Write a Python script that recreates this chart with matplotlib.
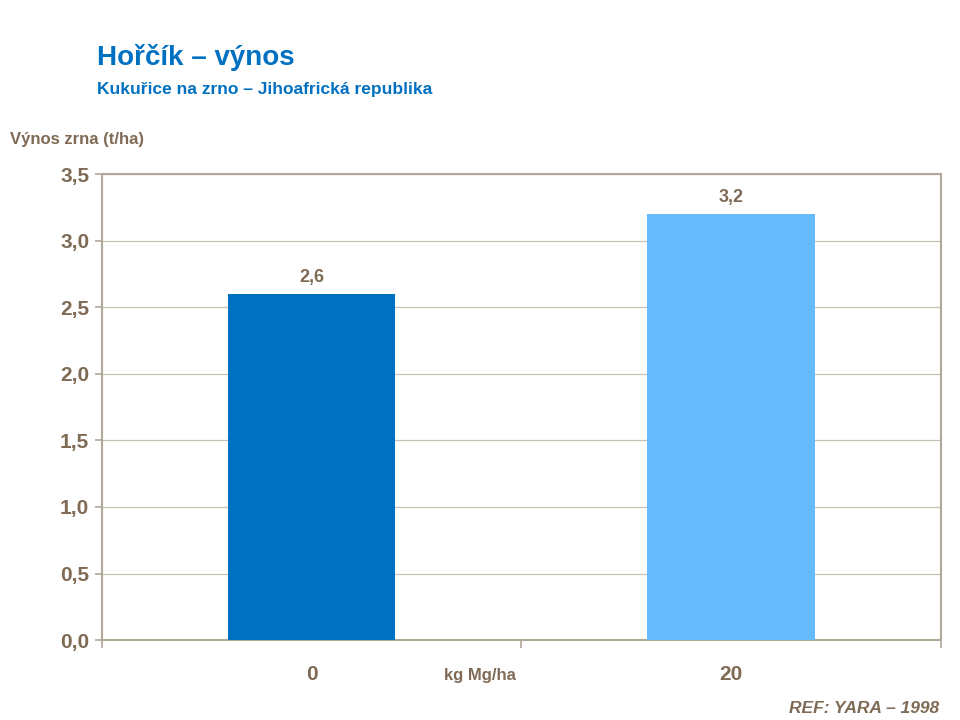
import matplotlib
matplotlib.use("Agg")
import matplotlib.pyplot as plt
from matplotlib.ticker import FixedLocator

categories = ["0", "20"]
yields = [2.6, 3.2]
value_labels = ["2,6", "3,2"]
yticks = [0.0, 0.5, 1.0, 1.5, 2.0, 2.5, 3.0, 3.5]

TXT = "#7F6A55"
EDGE = "#B0A898"
BLUE = "#0070C0"

plt.rcParams.update({"font.family": "Liberation Sans", "font.weight": "bold"})
fig = plt.figure(figsize=(9.6, 7.2), dpi=100)
ax = fig.add_axes([0.106, 0.111, 0.874, 0.647])

xs = range(len(categories))
ax.bar(xs, yields, width=0.4, color=[BLUE, "#66BBFF"], zorder=3)
for x, v, lab in zip(xs, yields, value_labels):
    ax.text(x, v + 0.06, lab, ha="center", va="bottom", fontsize=13, color=TXT, fontweight="bold")

ax.set_xlim(-0.5, 1.5)
ax.set_ylim(0, 3.5)
ax.set_yticks(yticks)
ax.set_yticklabels([f"{t:.1f}".replace(".", ",") for t in yticks], fontsize=15, color=TXT)
ax.yaxis.grid(True, color="#C8C0B4", lw=0.9, zorder=0)
ax.set_xticks(list(xs))
ax.set_xticklabels(categories, fontsize=15, color=TXT)
ax.xaxis.set_minor_locator(FixedLocator([-0.5, 0.5, 1.5]))
ax.tick_params(axis="x", which="major", length=0, pad=18)
ax.tick_params(axis="x", which="minor", length=6, color=EDGE, width=1.2)
ax.tick_params(axis="y", length=5, color=EDGE, width=1.2, pad=4)
for s in ax.spines.values():
    s.set_color(EDGE)
    s.set_linewidth(1.5)

fig.text(0.5, 0.055, "kg Mg/ha", ha="center", fontsize=12, color=TXT, fontweight="bold")
fig.text(0.01, 0.8, "Výnos zrna (t/ha)", fontsize=12, color=TXT, fontweight="bold")
fig.text(0.101, 0.91, "Hořčík – výnos", fontsize=20, color=BLUE, fontweight="bold")
fig.text(0.101, 0.87, "Kukuřice na zrno – Jihoafrická republika", fontsize=12.5, color=BLUE, fontweight="bold")
fig.text(0.978, 0.005, "REF: YARA – 1998", ha="right", va="bottom", fontsize=12.5,
         color=TXT, fontweight="bold", style="italic")

fig.savefig("out.png", dpi=100)
